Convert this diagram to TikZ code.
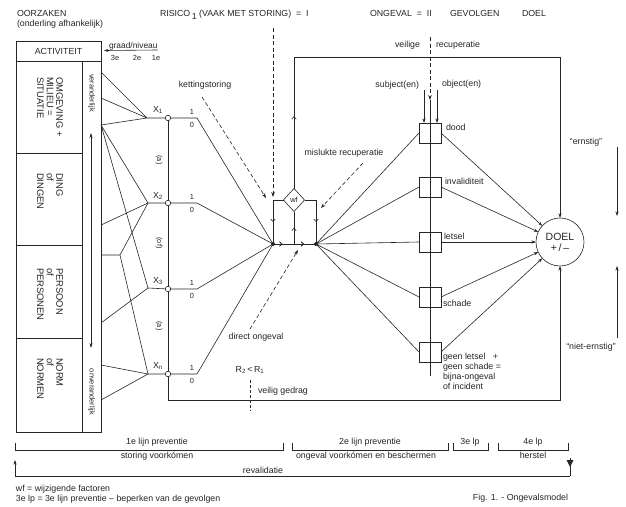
\documentclass[tikz,border=0pt]{standalone}
\usepackage{fontspec}
\setmainfont{Liberation Sans}
\usetikzlibrary{arrows.meta,decorations.markings,shapes.geometric,calc}
\begin{document}
\begin{tikzpicture}[x=1pt,y=-1pt,line width=0.6pt,color=black!85,
  every node/.style={inner sep=0pt,outer sep=0pt},
  t/.style={font=\fontsize{8.8}{10}\selectfont},
  ts/.style={font=\fontsize{7.4}{8.5}\selectfont},
  tb/.style={font=\fontsize{9.4}{9.6}\selectfont},
  arr/.style={-{Stealth[length=4.5pt,width=3pt]}},
  dasharr/.style={dash pattern=on 4pt off 2.5pt,-{Stealth[length=5pt,width=3.5pt]}},
  midarr/.style={postaction={decorate},decoration={markings,mark=at position #1 with {\arrow{Straight Barb[length=2.5pt,width=4.5pt]}}}},
  midarr/.default=0.5,
  cell/.style={draw,rectangle},
  res/.style={draw,rectangle,minimum width=22,minimum height=20},
  sc/.style={draw,circle,minimum size=5.5,fill=white}]
\fill[white] (0,0) rectangle (626,506);
\useasboundingbox (0,0) rectangle (626,506);

% ---------- header texts
\node[t,anchor=west] (oorz) at (17,13) {OORZAKEN};
\node[t,anchor=west] (onder) at (17,24) {(onderling afhankelijk)};
\node[t,anchor=west] (risico) at (160,15) {RISICO\,\raisebox{-2.5pt}{1} (VAAK MET STORING) \ = \ I};
\node[t,anchor=west] (ong) at (370,13) {ONGEVAL \ = \ II};
\node[t,anchor=west] (gev) at (450,13) {GEVOLGEN};
\node[t,anchor=west] (doelh) at (522,13) {DOEL};

% ---------- left table
\node[cell,minimum width=85,minimum height=20,t] (act) at (58.5,51) {ACTIVITEIT};
\node[cell,minimum width=66,minimum height=92] (omg) at (49,107) {};
\node[cell,minimum width=66,minimum height=92] (ding) at (49,199) {};
\node[cell,minimum width=66,minimum height=93] (pers) at (49,291.5) {};
\node[cell,minimum width=66,minimum height=94] (norm) at (49,385) {};
\node[cell,minimum width=19,minimum height=371] (var) at (91.5,246.5) {};
\node[tb,rotate=-90,anchor=west,align=left] (omgt) at (50,77) {OMGEVING +\\MILIEU =\\SITUATIE};
\node[tb,rotate=-90,anchor=west,align=left] (dingt) at (50,173) {DING\\of\\DINGEN};
\node[tb,rotate=-90,anchor=west,align=left] (perst) at (50,268) {PERSOON\\of\\PERSONEN};
\node[tb,rotate=-90,anchor=west,align=left] (normt) at (50,358) {NORM\\of\\NORMEN};
\node[ts,rotate=-90] (veran) at (91.5,93) {veranderlijk};
\node[ts,rotate=-90] (onver) at (91.5,392) {onveranderlijk};
\coordinate (vtop) at (91,133);
\coordinate (vbot) at (91,348);
\draw[{Stealth[length=5pt,width=3pt]}-{Stealth[length=5pt,width=3pt]}] (vtop) -- (vbot);

% graad / niveau
\node[font=\fontsize{8.4}{9}\selectfont,anchor=south west] (graad) at (109,50) {graad/niveau};
\coordinate (gl) at (104,50.5);
\draw[arr] (graad.south east) -- (gl);
\node[ts] (g3) at (115,57.5) {3e};
\node[ts] (g2) at (137,57.5) {2e};
\node[ts] (g1) at (156,57.5) {1e};

% ---------- X junctions
\coordinate (x1) at (147,118);
\coordinate (x2) at (148,203);
\coordinate (x3) at (148,288);
\coordinate (xn) at (148,374);
\node[t] (x1l) at (158,110) {X\textsubscript{1}};
\node[t] (x2l) at (158,196) {X\textsubscript{2}};
\node[t] (x3l) at (158,281) {X\textsubscript{3}};
\node[t] (xnl) at (158,366) {X\textsubscript{n}};

% cause lines from the table
\coordinate (p1) at (101,72);
\coordinate (p2) at (101,98);
\coordinate (p3) at (101,125);
\coordinate (p4) at (101,225);
\coordinate (p5) at (101,255);
\coordinate (p5b) at (120,255);
\coordinate (p6) at (101,323);
\coordinate (p7) at (101,365);
\coordinate (p8) at (101,400);
\draw (p1) -- (x1) (p2) -- (x1) (p3) -- (x1);
\draw (p3) -- (x2) (p3) -- (x3);
\draw (p4) -- (x2);
\draw (p5) -- (p5b) -- (x2) (p5b) -- (xn);
\draw (p6) -- (x3) (p7) -- (xn) (p8) -- (xn);

% small circles and bus
\node[sc] (c1) at (168,118) {};
\node[sc] (c2) at (168,203) {};
\node[sc] (c3) at (168,289) {};
\node[sc] (cn) at (168,374) {};
\node[ts,rotate=-90] (la) at (159,160) {(a)};
\node[ts,rotate=-90] (lb) at (159,243) {(of)};
\node[ts,rotate=-90] (lc) at (159,326) {(a)};

% junctions L and R
\coordinate (L) at (273,244);
\coordinate (R) at (316,244);
\coordinate (M) at (294,244);
\fill (L) circle (2);
\fill (R) circle (2);

\coordinate (b1) at (197,118);
\coordinate (b2) at (197,203);
\coordinate (b3) at (197,289);
\coordinate (bn) at (197,374);
\draw (x1) -- (c1) -- (b1) -- (L);
\draw (x2) -- (c2) -- (b2) -- (L);
\draw (x3) -- (c3) -- (b3) -- (L);
\draw (xn) -- (cn) -- (bn) -- (L);
\draw (c1) -- (c2) -- (c3) -- (cn);
\foreach \n/\y in {1/118,2/203,3/289,n/374}{
  \node[ts] (one\n) at (192,\y-6.5) {1};
  \node[ts] (zero\n) at (192,\y+7) {0};
}

% wf diamond
\node[draw,diamond,aspect=0.9,minimum width=21,minimum height=23,fill=white,ts] (wf) at (294,200) {wf};
\coordinate (wl) at (273,200);
\coordinate (wr) at (316,200);
\draw[midarr=0.5] (wl) -- (L);
\draw (wf.west) -- (wl);
\draw (wf.east) -- (wr);
\draw[midarr=0.5] (wr) -- (R);
\draw[midarr=0.5] (M) -- (wf.south);
\draw[midarr=0.22,midarr=0.72] (L) -- (R);

% top loop to DOEL
\node[draw,circle,minimum size=48,align=center,font=\fontsize{10.5}{11}\selectfont] (doel) at (560,242) {DOEL\\+\,/\,--};
\coordinate (ta) at (294,57);
\coordinate (tb) at (560,57);
\draw[midarr=0.55] (wf.north) -- (ta);
\draw[arr] (ta) -- (tb) -- (doel.north);
\node[t,anchor=east] (veilige) at (420,45) {veilige};
\node[t,anchor=west] (recup) at (436,45) {recuperatie};

% bottom loop
\coordinate (ba) at (168,400);
\coordinate (bb) at (560,400);
\draw[arr] (cn) -- (ba) -- (bb) -- (doel.south);

% result boxes
\node[res] (dood) at (430,133) {};
\node[res] (inval) at (430,187) {};
\node[res] (letsel) at (430,242) {};
\node[res] (schade) at (430,297) {};
\node[res] (geen) at (430,352) {};
\coordinate (vt) at (430,37);
\coordinate (va) at (430,100);
\coordinate (vb) at (430,376);
\draw[dasharr] (vt) -- (va);
\draw (va) -- (vb);
\coordinate (st) at (424,90);
\coordinate (ot) at (437,90);
\draw[arr] (st) -- (st |- dood.north);
\draw[arr] (ot) -- (ot |- dood.north);
\node[t,anchor=east] (subj) at (419,85) {subject(en)};
\node[t,anchor=west] (obj) at (442,84) {object(en)};
\node[t,anchor=west] (doodt) at (446,127) {dood};
\node[t,anchor=west] (invalt) at (445,181) {invaliditeit};
\node[t,anchor=west] (letselt) at (444,236) {letsel};
\node[t,anchor=west] (schadet) at (443,303) {schade};
\node[t,anchor=north west,align=left] (geent) at (443,353) {geen letsel \ \ +\\geen schade =\\bijna-ongeval\\of incident};

\foreach \b in {dood,inval,letsel,schade,geen}{
  \draw (R) -- (\b.west);
  \draw[arr] (\b.east) -- (doel);
}

\node[t] (ernst) at (586,142) {``ernstig''};
\node[t] (nernst) at (591,347) {``niet-ernstig''};
\coordinate (e1) at (617,147);
\coordinate (e2) at (617,216);
\coordinate (n1) at (617,338);
\coordinate (n2) at (617,266);
\draw[arr] (e1) -- (e2);
\draw[arr] (n1) -- (n2);

% dashed disturbance arrows
\coordinate (d1a) at (273,28);
\coordinate (d1b) at (273,197);
\draw[dasharr] (d1a) -- (d1b);
\node[t] (ketting) at (205,85) {kettingstoring};
\coordinate (d2a) at (202,97);
\coordinate (d2b) at (266,198);
\draw[dasharr] (d2a) -- (d2b);
\node[t] (mislukt) at (344,153) {mislukte recuperatie};
\coordinate (d3a) at (363,163);
\coordinate (d3b) at (321,208);
\draw[dasharr] (d3a) -- (d3b);
\node[t] (direct) at (256,337) {direct ongeval};
\coordinate (d4a) at (250,329);
\coordinate (d4b) at (298,250);
\draw[dasharr] (d4a) -- (d4b);
\node[t] (rr) at (250,370) {R\textsubscript{2}\,<\,R\textsubscript{1}};
\coordinate (r1) at (250,380);
\coordinate (r2) at (250,411);
\draw[dash pattern=on 3pt off 2pt] (r1) -- (r2);
\node[t,anchor=west] (veilig) at (258,391) {veilig gedrag};

% ---------- bottom brackets
\draw (15,443) -- (15,450) -- (283,450) -- (283,443);
\draw (292,443) -- (292,450) -- (448,450) -- (448,443);
\draw (453,443) -- (453,450) -- (488,450) -- (488,443);
\draw (498,443) -- (498,450) -- (568,450) -- (568,443);
\node[t] (l1) at (157,442) {1e lijn preventie};
\node[t] (l1b) at (157,456) {storing voorkómen};
\node[t] (l2) at (370,442) {2e lijn preventie};
\node[t] (l2b) at (366,456) {ongeval voorkómen en beschermen};
\node[t] (l3) at (470,442) {3e lp};
\node[t] (l4) at (533,442) {4e lp};
\node[t] (l4b) at (533,455) {herstel};
\coordinate (rv1) at (15,460);
\coordinate (rv2) at (15,476);
\coordinate (rv3) at (570,476);
\coordinate (rv4) at (570,458);
\draw[arr] (rv3) -- (rv2) -- (rv1);
\draw (rv3) -- (rv4);
\fill (566.5,460) -- (573.5,460) -- (570,467) -- cycle;
\node[t] (reval) at (263,470) {revalidatie};

% footnotes
\node[t,anchor=west] (fn1) at (16,489) {wf = wijzigende factoren};
\node[t,anchor=west] (fn2) at (16,499) {3e lp = 3e lijn preventie -- beperken van de gevolgen};
\node[t,anchor=east] (fig) at (568,498) {Fig. 1. - Ongevalsmodel};
\end{tikzpicture}
\end{document}
